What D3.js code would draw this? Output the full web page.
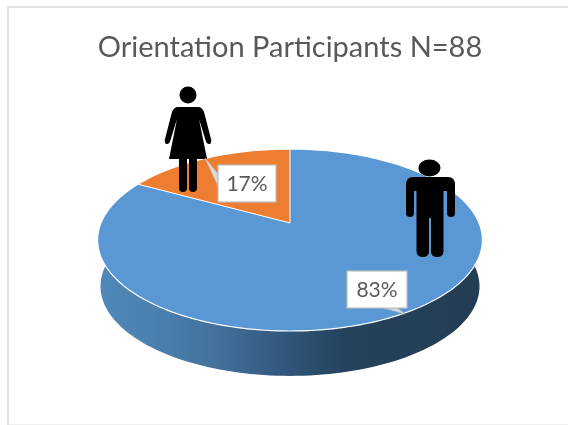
<!DOCTYPE html>
<html><head><meta charset="utf-8">
<script src="https://cdn.jsdelivr.net/npm/d3@7/dist/d3.min.js"></script>
<style>html,body{margin:0;padding:0;background:#fff;overflow:hidden}svg{display:block;filter:blur(0.45px)}text{font-family:Lato,"Open Sans",sans-serif}</style>
</head><body><svg id="c" width="568" height="425"></svg>
<script>
const categories = ["Men", "Women"];
const percentages = [83, 17];
const titleText = "Orientation Participants N=88";
const sliceColors = ["#5997d5", "#ed7d31"];

const svg = d3.select("#c");
const defs = svg.append("defs");

// frame
svg.append("path").attr("d","M8 425V7H568").attr("fill","none").attr("stroke","#e2e2e2").attr("stroke-width",2);
svg.append("path").attr("d","M9 424.5H568").attr("fill","none").attr("stroke","#efefef").attr("stroke-width",1);

svg.append("text").attr("x",290).attr("y",57).attr("text-anchor","middle")
  .attr("font-size",29).attr("fill","#595959").text(titleText);

// perspective disc: unit circle -> screen
const k = -0.187;
const xScale = d3.scaleLinear().domain([-1,1]).range([290-189,290+189]);
const yScale = d3.scaleLinear().domain([-1,1]).range([223-87.8,223+87.8]);
function project(theta, scale=1, dy=0){
  const u = Math.sin(theta), v = -Math.cos(theta), w = 1 + k*v;
  return [xScale(scale*u/w), yScale(scale*v/w)+dy];
}
const apex = [xScale(0), yScale(0)];
const sample = (a,b,n,s,dy)=>d3.range(n+1).map(i=>project(a+(b-a)*i/n,s,dy));

const arcs = d3.pie().sort(null)(percentages);

// side wall
const grad = defs.append("linearGradient").attr("id","wall").attr("gradientUnits","userSpaceOnUse")
  .attr("x1",97).attr("x2",482).attr("y1",0).attr("y2",0);
[[0,"#5089ba"],[0.14,"#4b81b0"],[0.3,"#44729d"],[0.5,"#30557a"],[0.64,"#25435c"],[1,"#233d53"]]
  .forEach(([o,c])=>grad.append("stop").attr("offset",o).attr("stop-color",c));
const frontTop = sample(Math.PI*0.45,Math.PI*1.55,120,1,0);
const frontBottom = sample(Math.PI*1.55,Math.PI*0.45,120,0.985,46.5);
svg.append("path").attr("d",d3.line()(frontTop.concat(frontBottom))+"Z").attr("fill","url(#wall)");

// top face
svg.selectAll("path.slice").data(arcs).join("path").attr("class","slice")
  .attr("d",d=>{
    const n=Math.max(8,Math.round((d.endAngle-d.startAngle)*60));
    return d3.line()([apex].concat(sample(d.startAngle,d.endAngle,n,1,0)))+"Z";
  })
  .attr("fill",(d,i)=>sliceColors[i]);
// white rim + seams
svg.append("path").attr("d",d3.line()(sample(0,2*Math.PI,240,1,0))+"Z").attr("fill","none").attr("stroke","#fff").attr("stroke-width",1.2);
arcs.slice(1).forEach(d=>{
  [d.startAngle,d.endAngle].forEach(a=>svg.append("path").attr("d",d3.line()([apex,project(a)]))
    .attr("stroke","#fff").attr("stroke-width",1).attr("fill","none"));
});

// man icon
const man = svg.append("g").attr("fill","#000");
man.append("ellipse").attr("cx",429.5).attr("cy",168).attr("rx",11).attr("ry",8.5);
man.append("path").attr("d","M413 177H448Q455 177 455 185V213Q455 217 451 217Q447 217 447 213V191H443.5V251Q443.5 257 437 257Q431.5 257 431 252V218H429V252Q428.5 257 423 257Q416.5 257 416.5 251V191H414V213Q414 217 410 217Q406 217 406 213V185Q406 177 413 177Z");

// woman icon
const woman = svg.append("g").attr("fill","#000");
woman.append("circle").attr("cx",188).attr("cy",95).attr("r",8.5);
woman.append("path").attr("d","M178 107H198Q202 107 204 112L211 139Q212 144 209 144Q206.5 144 205.5 140L199 119L207 159H197V188Q197 192 193 192Q189 192 189 188V159H187V188Q187 192 183 192Q179 192 179 188V159H169L177 119L170.5 140Q169.5 144 167 144Q164 144 165 139L172 112Q174 107 178 107Z");

// data labels
const labelBoxes = [
  {box:[347,271,60,37], tail:[[384,308],[405,314],[397,308]]},
  {box:[218,165,58,37], tail:[[218,174],[205,158],[218,186]]}
];
const labels = svg.selectAll("g.lbl").data(percentages).join("g").attr("class","lbl");
labels.append("path").attr("d",(d,i)=>d3.line()(labelBoxes[i].tail)+"Z").attr("fill","#d9d9d9").attr("stroke","#bfbfbf").attr("stroke-width",0.6);
labels.append("rect").attr("x",(d,i)=>labelBoxes[i].box[0]).attr("y",(d,i)=>labelBoxes[i].box[1])
  .attr("width",(d,i)=>labelBoxes[i].box[2]).attr("height",(d,i)=>labelBoxes[i].box[3])
  .attr("fill","#fff").attr("stroke","#bfbfbf").attr("stroke-width",1.2);
labels.append("text").attr("x",(d,i)=>labelBoxes[i].box[0]+labelBoxes[i].box[2]/2)
  .attr("y",(d,i)=>labelBoxes[i].box[1]+labelBoxes[i].box[3]/2+7)
  .attr("text-anchor","middle").attr("font-size",21).attr("fill","#595959").text(d=>d+"%");
</script></body></html>
